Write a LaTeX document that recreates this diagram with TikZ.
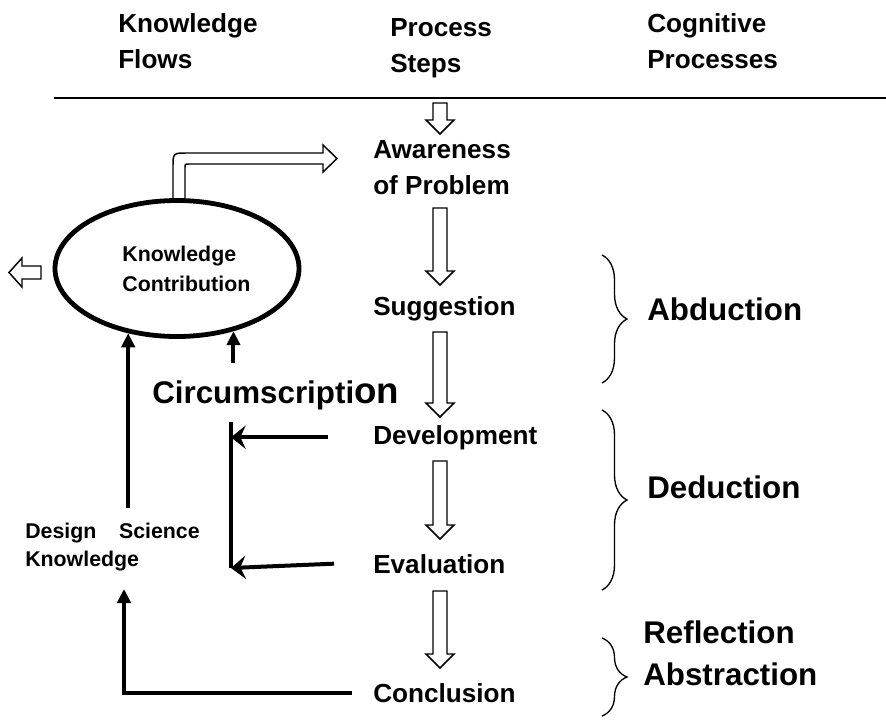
\documentclass[tikz,border=0pt]{standalone}
\usepackage{fontspec}
\setmainfont{Liberation Sans}
\usepackage{tikz}
\usetikzlibrary{arrows.meta,shapes.geometric,decorations.pathreplacing}

\begin{document}
\begin{tikzpicture}[x=0.75pt, y=-0.75pt,
  txt/.style={anchor=base west, inner sep=0pt, align=left, font=\bfseries\fontsize{19.6}{27}\selectfont},
  small/.style={txt, font=\bfseries\fontsize{16}{20.5}\selectfont},
  big/.style={txt, font=\bfseries\fontsize{23.5}{31.5}\selectfont},
  hollow/.style={draw, fill=white, line width=1.1pt},
  flow/.style={line width=3pt, -{Triangle[length=10.5pt,width=10pt]}},
  feed/.style={line width=3pt, -{Stealth[length=11pt,width=17.5pt,inset=4pt]}},
  curly/.style={line width=1pt, decorate, decoration={brace, amplitude=18.75pt}}]
 \useasboundingbox (0,0) rectangle (886,726);
 \node[txt] (flows) at (118,68) {Knowledge\\Flows};
 \node[txt] (steps) at (390,72) {Process\\Steps};
 \node[txt] (cogn) at (647,68) {Cognitive\\Processes};
 \draw[line width=1.5pt] (54,98) -- (886,98);

 \node[txt] (aware) at (373,194) {Awareness\\of Problem};
 \node[txt] (sugg) at (373,315) {Suggestion};
 \node[txt] (devel) at (373,444) {Development};
 \node[txt] (evalu) at (373,573) {Evaluation};
 \node[txt] (concl) at (373,702) {Conclusion};
 \foreach \ya/\yb in {103/134, 208/285, 332/417, 461/539, 591/668}
   \draw[hollow] (433,\ya) -- (447,\ya) -- (447,\yb-14) -- (454,\yb-14) -- (440,\yb) -- (426,\yb-14) -- (433,\yb-14) -- cycle;

 \draw[hollow] (173,202) -- (173,167) .. controls (173,153) .. (187,153) -- (323,153) -- (323,145) -- (337,158.5) -- (323,172) -- (323,164) -- (189,164) .. controls (185,164) .. (185,168) -- (185,202) -- cycle;
 \node[ellipse, draw, line width=3.6pt, minimum width=183pt, minimum height=102pt, align=left, font=\bfseries\fontsize{16}{22.5}\selectfont] (contrib) at (177,268.5) {\hspace*{14pt}Knowledge\\\hspace*{14pt}Contribution};
 \draw[hollow] (41,266) -- (22,266) -- (22,258) -- (9,272.5) -- (22,287) -- (22,279) -- (41,279) -- cycle;

 \node[big] (circ) at (152,403) {Circumscripti{\fontsize{27.5}{30}\selectfont on}};
 \node[small] (dsk) at (25,566) {Design\hspace{17pt}Science\\Knowledge};

 \coordinate (ksrc) at (127,508);
 \coordinate (csrc) at (232,363);
 \coordinate (bustop) at (231,422);
 \coordinate (busbot) at (231,568);
 \coordinate (dskin) at (124,589);
 \draw[flow] (contrib.233 |- ksrc) -- (contrib.233);
 \draw[flow] (contrib.312 |- csrc) -- (contrib.312);
 \draw[line width=3pt] (bustop) -- (busbot);
 \draw[feed] ([xshift=-33.75pt]devel.west) -- (devel.west -| bustop);
 \draw[feed] ([xshift=-29.25pt]evalu.west) -- (busbot);
 \draw[flow] ([xshift=-15.75pt]concl.west) -| (dskin);

 \draw[curly] (602,255) -- (602,383);
 \draw[curly] (602,410) -- (602,590);
 \draw[curly] (602,638) -- (602,716);
 \node[big] (abd) at (647,320) {Abduction};
 \node[big] (ded) at (647,498) {Deduction};
 \node[big] (refl) at (643,685) {Reflection\\Abstraction};
\end{tikzpicture}
\end{document}
